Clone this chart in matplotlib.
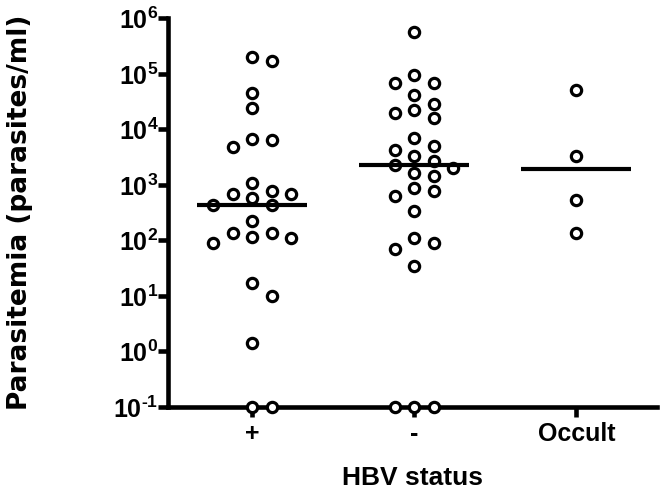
import numpy as np
import matplotlib
matplotlib.use("Agg")
import matplotlib.pyplot as plt
from matplotlib.ticker import FixedLocator, FixedFormatter, NullLocator

plt.rcParams['font.family'] = ['Liberation Sans', 'DejaVu Sans']
plt.rcParams['font.weight'] = 'bold'
plt.rcParams['mathtext.fontset'] = 'custom'
plt.rcParams['mathtext.rm'] = 'Liberation Sans:bold'
plt.rcParams['mathtext.bf'] = 'Liberation Sans:bold'

# HBV status groups (zeros drawn at the 10^-1 floor)
groups = ['+', '-', 'Occult']
hbv_pos = [2.0e5, 1.74e5, 4.6e4, 2.47e4, 6.5e3, 4.8e3, 6.66e3, 1.07e3, 689, 575,
           789, 689, 436, 436, 227, 135, 110, 89, 114, 135, 16.9, 10.1, 1.41, 0.1, 0.1]
hbv_neg = [5.78e5, 9.6e4, 6.8e4, 6.96e4, 4.19e4, 2.24e4, 1.63e4, 1.96e4, 2.88e4,
           7.1e3, 5.04e3, 4.27e3, 3.33e3, 2.74e3, 2.29e3, 2.0e3, 1.67e3, 1.47e3,
           894, 789, 634, 340, 112, 69, 89, 35, 0.1, 0.1, 0.1]
hbv_occult = [5.15e4, 3.37e3, 537, 135]
ytick_exp = [-1, 0, 1, 2, 3, 4, 5, 6]

data = [hbv_pos, hbv_neg, hbv_occult]


def swarm(ax, xc, vals, step_px=19.5, min_px=13.5):
    """spread points sideways so the circles do not overlap (pixel space)"""
    vals = np.asarray(vals, dtype=float)
    pts = ax.transData.transform(np.column_stack([np.full(len(vals), xc), vals]))
    y = pts[:, 1]
    unit = ax.transData.transform([[xc + 1, 1]])[0, 0] - ax.transData.transform([[xc, 1]])[0, 0]
    cand = [0, 1, -1, 2, -2, 0.5, -0.5, 1.5, -1.5, 3, -3, 2.5, -2.5, 4, -4]
    placed = []
    offs = np.zeros(len(vals))
    for i in np.argsort(-vals, kind='stable'):
        for c in cand:
            x = c * step_px
            if all((x - px) ** 2 + (y[i] - py) ** 2 >= min_px ** 2 for px, py in placed):
                break
        placed.append((x, y[i]))
        offs[i] = x / unit
    return xc + offs


fig = plt.figure(figsize=(6.64, 4.99), dpi=100)
ax = fig.add_axes([0.2530, 0.1844, 0.737, 0.7786])
ax.set_yscale('log')
ax.set_ylim(0.1, 1e6)
ax.set_xlim(0.48, 3.5)

for i, vals in enumerate(data):
    xc = i + 1
    xs = swarm(ax, xc, vals)
    ax.plot(xs, vals, 'o', ms=7.4, mfc='white', mec='black', mew=2.3,
            clip_on=False, zorder=3)
    ax.hlines(np.median(vals), xc - 0.34, xc + 0.34, color='black', lw=3.0, zorder=4)

for side in ['top', 'right']:
    ax.spines[side].set_visible(False)
for side in ['left', 'bottom']:
    ax.spines[side].set_linewidth(3.3)

ax.yaxis.set_major_locator(FixedLocator([10.0 ** e for e in ytick_exp]))
ax.yaxis.set_major_formatter(FixedFormatter(
    [r'$\mathbf{10^{%s}}$' % (r'\text{-}1' if e < 0 else str(e)) for e in ytick_exp]))
ax.yaxis.set_minor_locator(NullLocator())
ax.set_xticks([1, 2, 3])
ax.set_xticklabels(groups)
ax.tick_params(axis='both', width=3.3, length=7, color='black', labelsize=18)
ax.tick_params(axis='y', pad=0)
ax.tick_params(axis='x', pad=4)

ax.set_ylabel('Parasitemia (parasites/ml)', fontsize=19, fontweight='bold',
              family='DejaVu Sans')
ax.yaxis.set_label_coords(-0.276, 0.5)
ax.set_xlabel('HBV status', fontsize=19, fontweight='bold')
ax.xaxis.set_label_coords(0.5, -0.152)

fig.savefig('out.png', dpi=100)
